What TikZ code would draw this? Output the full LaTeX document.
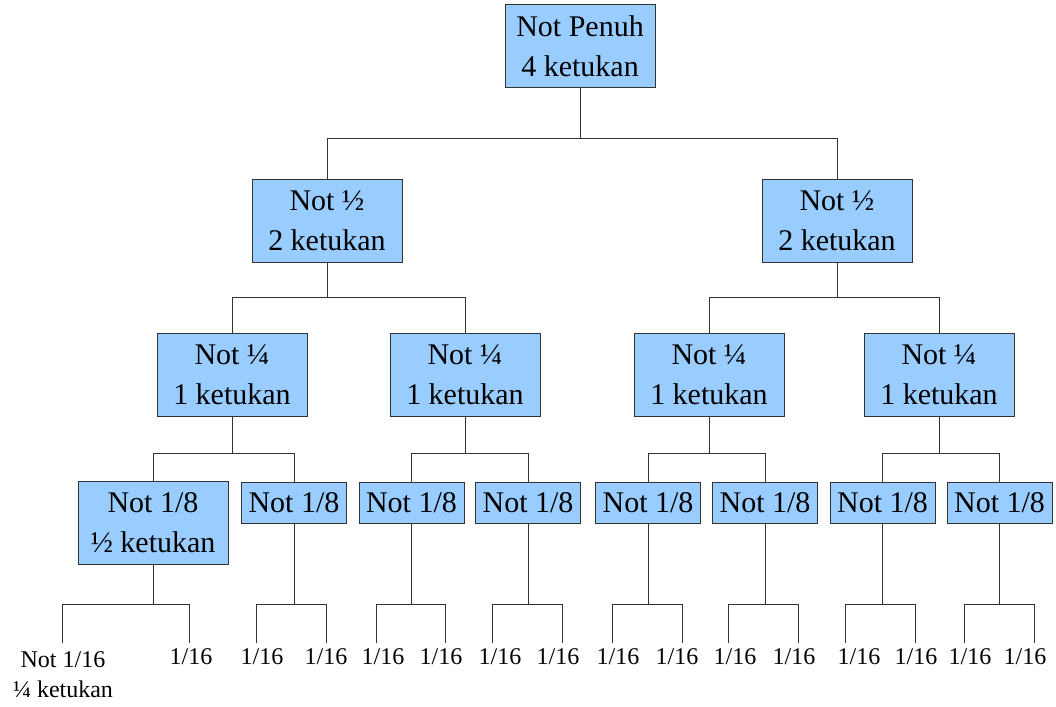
\documentclass[tikz,border=0pt]{standalone}
\usepackage{fontspec}
\setmainfont{Liberation Serif}
\definecolor{boxblue}{HTML}{99CCFF}
\definecolor{edge}{HTML}{333333}
\begin{document}
\begin{tikzpicture}[x=1pt,y=-1pt,
  box/.style={draw=edge, fill=boxblue, line width=1pt, minimum width=150pt, minimum height=83pt, inner sep=0pt, align=center, font=\fontsize{30}{40}\selectfont},
  sbox/.style={box, minimum width=105pt, minimum height=41pt},
  conn/.style={draw=edge, line width=1pt},
  leaf/.style={inner sep=0pt, align=center, font=\fontsize{24}{30}\selectfont}]
\useasboundingbox (0,0) rectangle (1056,706);
% level 1
\node[box] (n0) at (580,46.5) {Not Penuh\\4 ketukan};
% level 2
\node[box] (l) at (327,221) {Not ½\\2 ketukan};
\node[box] (r) at (837,221) {Not ½\\2 ketukan};
% level 3
\node[box] (la) at (232,374.5) {Not ¼\\1 ketukan};
\node[box] (lb) at (465,374.5) {Not ¼\\1 ketukan};
\node[box] (ra) at (709,374.5) {Not ¼\\1 ketukan};
\node[box] (rb) at (939,374.5) {Not ¼\\1 ketukan};
% level 4
\node[box] (e1) at (153,522.5) {Not 1/8\\½ ketukan};
\node[sbox] (e2) at (294,502.5) {Not 1/8};
\node[sbox] (e3) at (411.5,502.5) {Not 1/8};
\node[sbox] (e4) at (528,502.5) {Not 1/8};
\node[sbox] (e5) at (648,502.5) {Not 1/8};
\node[sbox] (e6) at (765,502.5) {Not 1/8};
\node[sbox] (e7) at (882.5,502.5) {Not 1/8};
\node[sbox] (e8) at (999.5,502.5) {Not 1/8};
% leg end coordinates
\coordinate (s1a) at (62,643);  \coordinate (s1b) at (189,643);
\coordinate (s2a) at (256,643); \coordinate (s2b) at (326,643);
\coordinate (s3a) at (376,643); \coordinate (s3b) at (445,643);
\coordinate (s4a) at (492,643); \coordinate (s4b) at (562,643);
\coordinate (s5a) at (612,643); \coordinate (s5b) at (682,643);
\coordinate (s6a) at (728,643); \coordinate (s6b) at (798,643);
\coordinate (s7a) at (845,643); \coordinate (s7b) at (915,643);
\coordinate (s8a) at (964,643); \coordinate (s8b) at (1034,643);
% labels
\node[leaf] (t1a) at (63,675) {Not 1/16\\¼ ketukan};
\node[leaf] (t1b) at (191,657) {1/16};
\node[leaf] (t2a) at (262,657) {1/16};
\node[leaf] (t2b) at (326,657) {1/16};
\node[leaf] (t3a) at (383,657) {1/16};
\node[leaf] (t3b) at (441,657) {1/16};
\node[leaf] (t4a) at (500,657) {1/16};
\node[leaf] (t4b) at (558,657) {1/16};
\node[leaf] (t5a) at (618,657) {1/16};
\node[leaf] (t5b) at (677,657) {1/16};
\node[leaf] (t6a) at (735,657) {1/16};
\node[leaf] (t6b) at (794,657) {1/16};
\node[leaf] (t7a) at (859,657) {1/16};
\node[leaf] (t7b) at (916,657) {1/16};
\node[leaf] (t8a) at (970,657) {1/16};
\node[leaf] (t8b) at (1025,657) {1/16};
% connectors
\draw[conn] (n0.south) -- (n0.south |- 0,138) -| (l.north);
\draw[conn] (n0.south |- 0,138) -| (r.north);
\draw[conn] (l.south) -- (l.south |- 0,297) -| (la.north);
\draw[conn] (l.south |- 0,297) -| (lb.north);
\draw[conn] (r.south) -- (r.south |- 0,297) -| (ra.north);
\draw[conn] (r.south |- 0,297) -| (rb.north);
\draw[conn] (la.south) -- (la.south |- 0,453) -| (e1.north);
\draw[conn] (la.south |- 0,453) -| (e2.north);
\draw[conn] (lb.south) -- (lb.south |- 0,453) -| (e3.north);
\draw[conn] (lb.south |- 0,453) -| (e4.north);
\draw[conn] (ra.south) -- (ra.south |- 0,453) -| (e5.north);
\draw[conn] (ra.south |- 0,453) -| (e6.north);
\draw[conn] (rb.south) -- (rb.south |- 0,453) -| (e7.north);
\draw[conn] (rb.south |- 0,453) -| (e8.north);
\foreach \i in {1,...,8}{
  \draw[conn] (e\i.south) -- (e\i.south |- 0,604) -| (s\i a);
  \draw[conn] (e\i.south |- 0,604) -| (s\i b);
}
\end{tikzpicture}
\end{document}
